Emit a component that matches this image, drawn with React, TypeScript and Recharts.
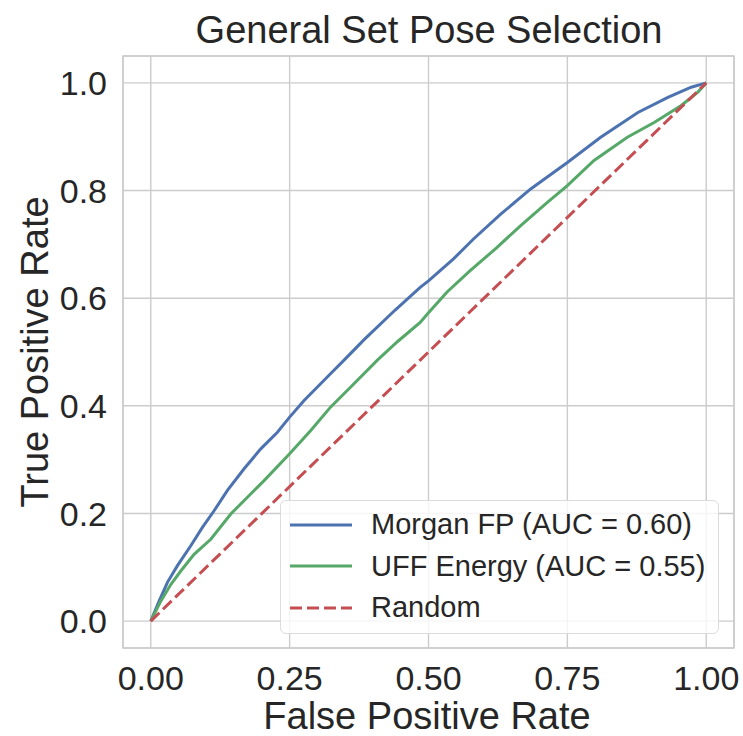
import { LineChart, Line, XAxis, YAxis, CartesianGrid, ReferenceArea, Customized } from 'recharts';

// ROC curve points
const morganFpr = [0, 0.015, 0.03, 0.048, 0.072, 0.093, 0.114, 0.138, 0.168, 0.198, 0.228, 0.25, 0.276, 0.3, 0.324, 0.348, 0.385, 0.44, 0.485, 0.5, 0.545, 0.581, 0.63, 0.684, 0.75, 0.81, 0.877, 0.931, 0.973, 1];
const morganTpr = [0, 0.037, 0.072, 0.103, 0.14, 0.174, 0.205, 0.243, 0.283, 0.32, 0.351, 0.379, 0.41, 0.435, 0.46, 0.485, 0.524, 0.578, 0.62, 0.632, 0.673, 0.71, 0.756, 0.803, 0.852, 0.899, 0.945, 0.973, 0.992, 1];

const uffFpr = [0, 0.018, 0.036, 0.054, 0.078, 0.108, 0.144, 0.174, 0.204, 0.25, 0.288, 0.324, 0.36, 0.408, 0.445, 0.485, 0.5, 0.533, 0.575, 0.623, 0.666, 0.714, 0.75, 0.798, 0.858, 0.907, 0.955, 0.985, 1];
const uffTpr = [0, 0.037, 0.068, 0.093, 0.124, 0.152, 0.199, 0.23, 0.261, 0.311, 0.354, 0.398, 0.435, 0.485, 0.52, 0.555, 0.573, 0.611, 0.651, 0.694, 0.735, 0.778, 0.809, 0.856, 0.899, 0.927, 0.958, 0.983, 1];

const randomFpr = [0, 1];
const randomTpr = [0, 1];

const xTicks = [0, 0.25, 0.5, 0.75, 1];
const yTicks = [0, 0.2, 0.4, 0.6, 0.8, 1];

const series = [
  { name: 'Morgan FP (AUC = 0.60)', color: '#4c72b0', dash: undefined, fpr: morganFpr, tpr: morganTpr },
  { name: 'UFF Energy (AUC = 0.55)', color: '#55a868', dash: undefined, fpr: uffFpr, tpr: uffTpr },
  { name: 'Random', color: '#c44e52', dash: '12 5', fpr: randomFpr, tpr: randomTpr },
];

const toPoints = (fpr: number[], tpr: number[]) => fpr.map((f, i) => ({ fpr: f, tpr: tpr[i] }));

const FONT = '"Liberation Sans", Arial, Helvetica, sans-serif';
const TEXT = '#262626';

const Labels = () => (
  <g fontFamily={FONT} fill={TEXT}>
    <text x={429} y={43} fontSize={38} textAnchor="middle">General Set Pose Selection</text>
    <text x={427} y={729} fontSize={38} textAnchor="middle">False Positive Rate</text>
    <text x={48} y={352} fontSize={38} textAnchor="middle" transform="rotate(-90 48 352)">True Positive Rate</text>
  </g>
);

const LegendBox = () => (
  <div
    style={{
      position: 'absolute',
      left: 280,
      top: 500,
      width: 439,
      height: 134,
      boxSizing: 'border-box',
      border: '1.5px solid #dcdcdc',
      borderRadius: 6,
      background: 'rgba(255,255,255,0.8)',
      fontFamily: FONT,
      color: TEXT,
      fontSize: 29,
      paddingTop: 3,
    }}
  >
    {series.map((s) => (
      <div key={s.name} style={{ display: 'flex', alignItems: 'center', height: 41.5 }}>
        <svg width={90} height={20} style={{ flexShrink: 0 }}>
          <line x1={9} y1={10} x2={71} y2={10} stroke={s.color} strokeWidth={3} strokeDasharray={s.dash} />
        </svg>
        <span style={{ lineHeight: 1 }}>{s.name}</span>
      </div>
    ))}
  </div>
);

export default function App() {
  return (
    <div style={{ position: 'absolute', left: 0, top: 0, width: 743, height: 736, background: '#fff' }}>
      <LineChart width={743} height={736} margin={{ top: 56, right: 9, bottom: 0, left: 0 }}>
        <CartesianGrid stroke="#cccccc" strokeWidth={1.4} />
        <ReferenceArea x1={-0.05} x2={1.05} y1={-0.05} y2={1.05} fill="none" stroke="#cccccc" strokeWidth={1.5} />
        <XAxis
          type="number"
          dataKey="fpr"
          domain={[-0.05, 1.05]}
          ticks={xTicks}
          tickFormatter={(v: number) => v.toFixed(2)}
          axisLine={false}
          tickLine={false}
          tickSize={0}
          tickMargin={18}
          height={88}
          tick={{ fill: TEXT, fontSize: 34, fontFamily: FONT }}
          allowDataOverflow
        />
        <YAxis
          type="number"
          dataKey="tpr"
          domain={[-0.05, 1.05]}
          ticks={yTicks}
          tickFormatter={(v: number) => v.toFixed(1)}
          axisLine={false}
          tickLine={false}
          tickSize={0}
          tickMargin={16}
          width={123}
          tick={{ fill: TEXT, fontSize: 34, fontFamily: FONT }}
          allowDataOverflow
        />
        {series.map((s) => (
          <Line
            key={s.name}
            name={s.name}
            data={toPoints(s.fpr, s.tpr)}
            dataKey="tpr"
            type="linear"
            stroke={s.color}
            strokeWidth={3}
            strokeDasharray={s.dash}
            dot={false}
            activeDot={false}
            isAnimationActive={false}
          />
        ))}
        <Customized component={Labels} />
      </LineChart>
      <LegendBox />
    </div>
  );
}
